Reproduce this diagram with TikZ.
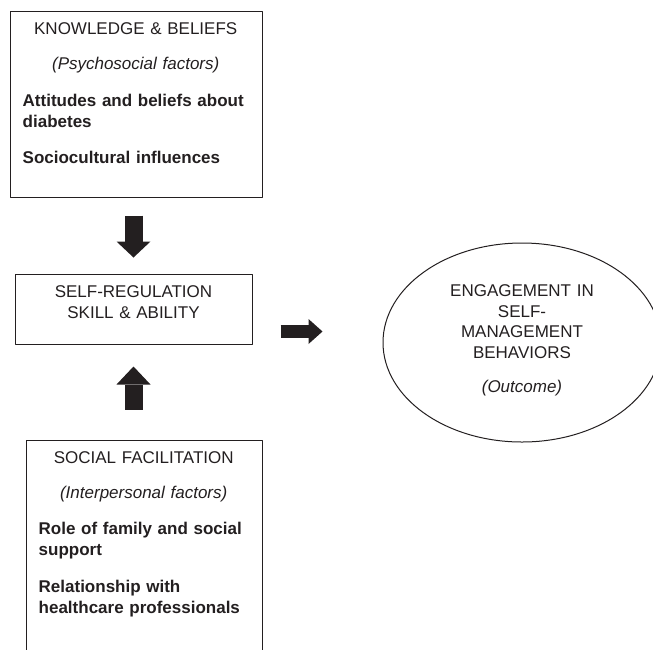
\documentclass[tikz,border=0pt]{standalone}
\usepackage{fontspec}
\setmainfont{Liberation Sans}
\usetikzlibrary{arrows.meta,positioning,calc,shapes.geometric}
\definecolor{ink}{RGB}{35,31,32}
\setlength{\parindent}{0pt}
\tikzset{
  every picture/.style={font=\fontsize{17}{20.5}\selectfont},
  panel/.style={draw=ink,line width=1pt,line join=round,inner sep=0pt},
  blurb/.style={text=ink,inner sep=0pt,align=left},
  fat/.style={ink,line width=#1},
}

\begin{document}
\begin{tikzpicture}[x=1pt,y=-1pt]
  \useasboundingbox (0,0) rectangle (653,649);
  \node[panel,minimum width=252pt,minimum height=186pt] (kb) at (136,104) {};
  \node[panel,minimum width=237pt,minimum height=70pt,below=76pt of kb,xshift=-2.5pt] (sr) {};
  \node[panel,minimum width=236pt,minimum height=240pt,below=95pt of sr,xshift=10.5pt] (sf) {};
  \node[panel,ellipse,minimum width=278pt,minimum height=199pt,right=130pt of sr,yshift=-33.5pt] (ell) {};
  \node[blurb,text width=226pt,anchor=base west] (kbtxt) at ($(kb.north west)+(13,24)$)
    {{\centering KNOWLEDGE \& BELIEFS\par}\vspace{14pt}
     {\centering\itshape (Psychosocial factors)\par}\vspace{17pt}
     \textbf{Attitudes and beliefs about\\diabetes}\par\vspace{16pt}
     \textbf{Sociocultural influences}\par};
  \node[blurb,text width=220pt,align=center,anchor=base] (srtxt) at ($(sr.north)+(0,24)$)
    {SELF-REGULATION\\SKILL \& ABILITY};
  \node[blurb,text width=210pt,anchor=base west] (sftxt) at ($(sf.north west)+(13,24)$)
    {{\centering SOCIAL FACILITATION\par}\vspace{14pt}
     {\centering\itshape (Interpersonal factors)\par}\vspace{16pt}
     \textbf{Role of family and social\\support}\par\vspace{17pt}
     \textbf{Relationship with\\healthcare professionals}\par};
  \node[blurb,text width=200pt,align=center,anchor=base] (elltxt) at ($(ell.north)+(0,54)$)
    {ENGAGEMENT IN\\SELF-\\MANAGEMENT\\BEHAVIORS\par\vspace{14pt}\textit{(Outcome)}};
  \draw[fat=18pt,-{Triangle[width=34pt,length=16pt,line width=0pt]},shorten <=18pt,shorten >=16pt] (kb.south -| sr) -- (sr.north);
  \draw[fat=18pt,-{Triangle[width=34pt,length=18pt,line width=0pt]},shorten <=30pt,shorten >=22pt] (sf.north -| sr) -- (sr.south);
  \draw[fat=13pt,-{Triangle[width=25pt,length=14pt,line width=0pt]},shorten <=28pt,shorten >=60pt] ([yshift=-22.5pt]sr.east) -- ([yshift=11pt]ell.west);
\end{tikzpicture}
\end{document}
